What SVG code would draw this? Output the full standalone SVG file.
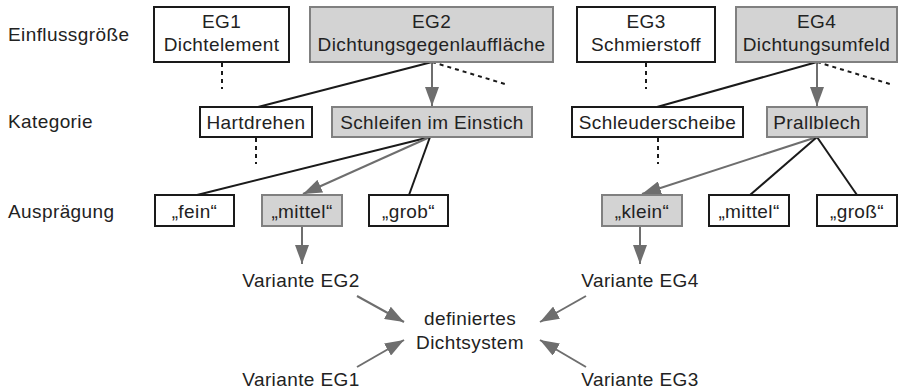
<svg xmlns="http://www.w3.org/2000/svg" width="904" height="392" viewBox="0 0 904 392">
<style>
text{font-family:"Liberation Sans",Arial,sans-serif;font-size:19px;fill:#222;letter-spacing:0.4px}
.c{text-anchor:middle}
.w{fill:#fff;stroke:#1a1a1a;stroke-width:2}
.g{fill:#d3d3d3;stroke:#808080;stroke-width:2}
.k{stroke:#1a1a1a;stroke-width:2;fill:none}
.a{stroke:#6e6e6e;stroke-width:2;fill:none}
.d{stroke:#1a1a1a;stroke-width:2;fill:none;stroke-dasharray:4 4}
</style>
<defs>
<marker id="ah" markerUnits="userSpaceOnUse" markerWidth="20" markerHeight="14" viewBox="0 0 20 14" refX="19" refY="7" orient="auto">
<path d="M0,0 L19,7 L0,14 Z" fill="#6e6e6e"/>
</marker>
</defs>
<g id="labels">
<text x="8" y="41">Einflussgröße</text>
<text x="8" y="128">Kategorie</text>
<text x="8" y="218">Ausprägung</text>
</g>
<g id="connectors">
<line class="d" x1="222" y1="63" x2="222" y2="89" stroke-dasharray="3 3"/>
<line class="k" x1="432" y1="62" x2="258" y2="107"/>
<line class="a" x1="432" y1="62" x2="432" y2="106" marker-end="url(#ah)"/>
<line class="d" x1="432" y1="62" x2="505" y2="84"/>
<line class="d" x1="646" y1="63" x2="646" y2="89" stroke-dasharray="3 3"/>
<line class="k" x1="817" y1="62" x2="657" y2="107"/>
<line class="a" x1="817" y1="62" x2="817" y2="106" marker-end="url(#ah)"/>
<line class="d" x1="817" y1="62" x2="890" y2="84"/>
<line class="d" x1="256" y1="138" x2="256" y2="164" stroke-dasharray="3 3"/>
<line class="d" x1="658" y1="138" x2="658" y2="164" stroke-dasharray="3 3"/>
<line class="k" x1="430" y1="137" x2="197" y2="195"/>
<line class="a" x1="430" y1="137" x2="303" y2="194" marker-end="url(#ah)"/>
<line class="k" x1="430" y1="137" x2="409" y2="195"/>
<line class="a" x1="817" y1="137" x2="642" y2="194" marker-end="url(#ah)"/>
<line class="k" x1="817" y1="137" x2="750" y2="195"/>
<line class="k" x1="817" y1="137" x2="857" y2="195"/>
<line class="a" x1="302" y1="227" x2="302" y2="264" marker-end="url(#ah)"/>
<line class="a" x1="640" y1="227" x2="640" y2="264" marker-end="url(#ah)"/>
<line class="a" x1="357" y1="296" x2="404" y2="322" marker-end="url(#ah)"/>
<line class="a" x1="357" y1="367" x2="404" y2="340" marker-end="url(#ah)"/>
<line class="a" x1="586" y1="296" x2="540" y2="322" marker-end="url(#ah)"/>
<line class="a" x1="586" y1="367" x2="540" y2="340" marker-end="url(#ah)"/>
</g>
<g id="eg1"><rect class="w" x="154" y="7" width="135" height="55"/><text class="c" x="221.5" y="28">EG1</text><text class="c" x="221.5" y="51">Dichtelement</text></g>
<g id="eg2"><rect class="g" x="310" y="7" width="243" height="55"/><text class="c" x="431.5" y="28">EG2</text><text class="c" x="431.5" y="51">Dichtungsgegenlauffläche</text></g>
<g id="eg3"><rect class="w" x="577" y="7" width="138" height="55"/><text class="c" x="646" y="28">EG3</text><text class="c" x="646" y="51">Schmierstoff</text></g>
<g id="eg4"><rect class="g" x="736" y="7" width="161" height="55"/><text class="c" x="816.5" y="28">EG4</text><text class="c" x="816.5" y="51">Dichtungsumfeld</text></g>
<g id="hartdrehen"><rect class="w" x="200" y="107" width="112" height="30"/><text class="c" x="256" y="129">Hartdrehen</text></g>
<g id="schleifen"><rect class="g" x="332" y="107" width="200" height="30"/><text class="c" x="432" y="129">Schleifen im Einstich</text></g>
<g id="schleuder"><rect class="w" x="572" y="107" width="171" height="30"/><text class="c" x="657.5" y="129">Schleuderscheibe</text></g>
<g id="prallblech"><rect class="g" x="767" y="107" width="100" height="30"/><text class="c" x="817" y="129">Prallblech</text></g>
<g id="fein"><rect class="w" x="155" y="195" width="79" height="31"/><text class="c" x="194.5" y="218">„fein“</text></g>
<g id="mittel1"><rect class="g" x="262" y="195" width="80" height="31"/><text class="c" x="302" y="218">„mittel“</text></g>
<g id="grob"><rect class="w" x="369" y="195" width="79" height="31"/><text class="c" x="408.5" y="218">„grob“</text></g>
<g id="klein"><rect class="g" x="602" y="195" width="80" height="31"/><text class="c" x="642" y="218">„klein“</text></g>
<g id="mittel2"><rect class="w" x="709" y="195" width="80" height="31"/><text class="c" x="749" y="218">„mittel“</text></g>
<g id="gross"><rect class="w" x="817" y="195" width="80" height="31"/><text class="c" x="857" y="218">„groß“</text></g>
<g id="varianten">
<text class="c" x="301" y="287">Variante EG2</text>
<text class="c" x="640" y="287">Variante EG4</text>
<text class="c" x="301" y="386">Variante EG1</text>
<text class="c" x="640" y="386">Variante EG3</text>
</g>
<g id="dichtsystem"><text class="c" x="470" y="325">definiertes</text><text class="c" x="470" y="349">Dichtsystem</text></g>
</svg>
